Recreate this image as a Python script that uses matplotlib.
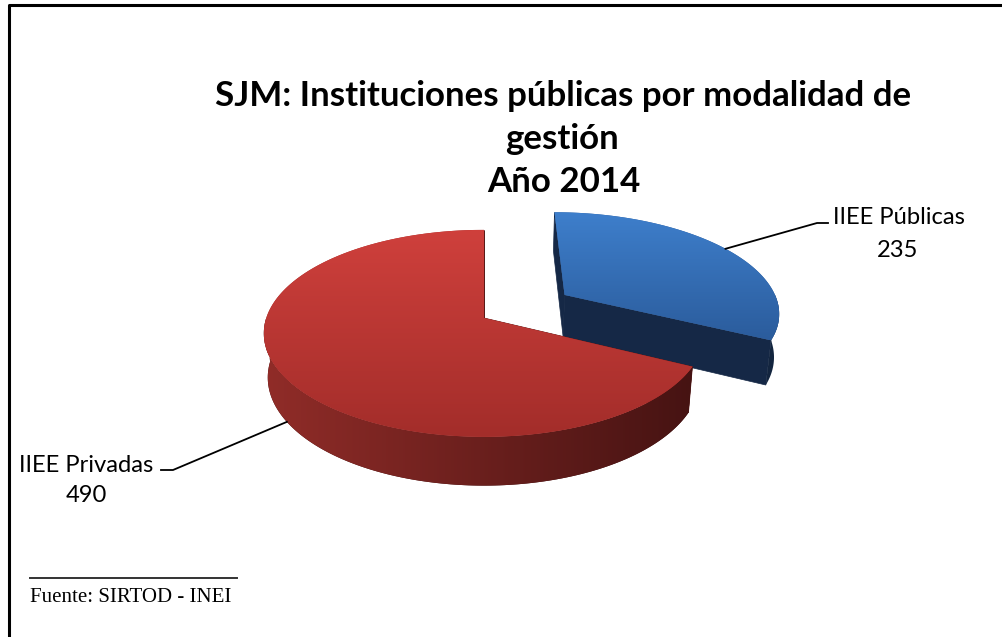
import numpy as np
import matplotlib
matplotlib.use('Agg')
import matplotlib.pyplot as plt
from matplotlib.patches import Polygon
from matplotlib.colors import to_rgb

# data
labels = ['IIEE Públicas', 'IIEE Privadas']
values = [235, 490]
explode = [0.45, 0.0]

title_lines = ['SJM: Instituciones públicas por modalidad de', 'gestión', 'Año 2014']
source_text = 'Fuente: SIRTOD - INEI'

# colours (top gradient, side gradient, cut wall)
top_cols = [('#3e7fcc', '#2b5c9c'), ('#cf403c', '#a32d2a')]
side_cols = [('#1c3355', '#13253f'), ('#902c28', '#3a0f0f')]
wall_cols = ['#152846', '#5a1a18']

W, H = 1002, 637
fig = plt.figure(figsize=(W / 100, H / 100), dpi=100)
ax = fig.add_axes([0, 0, 1, 1])

# simple perspective camera for the 3d pie
ELEV = np.radians(27.7)
DIST = 5.97
FOCAL = 1300
CX, CY = 484, 318
THICK = 0.231


def project(x, y, z):
    s, c = np.sin(ELEV), np.cos(ELEV)
    depth = DIST - (y * s + z * c)
    return CX + FOCAL * x / depth, CY - FOCAL * (y * c - z * s) / depth, depth


def lerp(c1, c2, k):
    a, b = np.array(to_rgb(c1)), np.array(to_rgb(c2))
    return tuple(a + (b - a) * k)


def grad_fill(poly, c1, c2, horizontal, x0=None, x1=None, z=1):
    xy = poly.get_xy()
    xs, ys = xy[:, 0], xy[:, 1]
    g = np.array([lerp(c1, c2, k) for k in np.linspace(0, 1, 256)])
    if horizontal:
        lo, hi = (xs.min() if x0 is None else x0), (xs.max() if x1 is None else x1)
        im = ax.imshow(g[None, :, :], extent=(lo, hi, ys.max(), ys.min()), origin='upper',
                       aspect='auto', zorder=z, interpolation='bilinear')
    else:
        im = ax.imshow(g[:, None, :], extent=(xs.min(), xs.max(), ys.max(), ys.min()), origin='upper',
                       aspect='auto', zorder=z, interpolation='bilinear')
    im.set_clip_path(poly)


total = float(sum(values))
slices = []
start = 90.0
for i, v in enumerate(values):
    span = v / total * 360
    t1, t0 = start, start - span
    mid = np.radians((t0 + t1) / 2)
    slices.append(dict(i=i, t0=t0, t1=t1, mid=mid,
                       ox=explode[i] * np.cos(mid), oz=-explode[i] * np.sin(mid)))
    start = t0

pie_left = project(-1, 0, 0)[0]
pie_right = project(1, 0, 0)[0]

zo = 1
# exploded (back) slice first, then the big one
for sl in sorted(slices, key=lambda d: -explode[d['i']]):
    i = sl['i']
    ox, oz = sl['ox'], sl['oz']

    def rim(t, y):
        return project(ox + np.cos(t), y, oz - np.sin(t))

    # cut walls
    walls = []
    for t in np.radians([sl['t0'], sl['t1']]):
        p = [project(ox, 0, oz), rim(t, 0), rim(t, -THICK), project(ox, -THICK, oz)]
        walls.append((np.mean([q[2] for q in p]), [q[:2] for q in p]))
    for d, pts in sorted(walls, key=lambda w: -w[0]):
        ax.add_patch(Polygon(pts, closed=True, facecolor=wall_cols[i], edgecolor=wall_cols[i],
                             lw=0.5, zorder=zo))
    zo += 1

    # front part of outer side
    a0, a1 = max(sl['t0'], -180), min(sl['t1'], 0)
    if a1 > a0:
        fs = np.radians(np.linspace(a0, a1, 150))
        pts = [rim(t, 0)[:2] for t in fs] + [rim(t, -THICK)[:2] for t in fs[::-1]]
        side = Polygon(pts, closed=True, facecolor=side_cols[i][1], edgecolor='none', zorder=zo)
        ax.add_patch(side)
        grad_fill(side, side_cols[i][0], side_cols[i][1], True, pie_left, pie_right + 60, zo + 0.5)
    zo += 1

    # top face with vertical gradient
    ts = np.radians(np.linspace(sl['t0'], sl['t1'], 200))
    c = project(ox, 0, oz)
    pts = [c[:2]] + [rim(t, 0)[:2] for t in ts]
    top = Polygon(pts, closed=True, facecolor=top_cols[i][1], edgecolor='none', zorder=zo)
    ax.add_patch(top)
    grad_fill(top, top_cols[i][0], top_cols[i][1], False, z=zo + 0.5)
    zo += 1

# leader lines: blue to the top rim, red to the bottom rim at the mid angle
blue = slices[0]
red = slices[1]
bx, by, _ = project(blue['ox'] + np.cos(blue['mid']), 0, blue['oz'] - np.sin(blue['mid']))
rx, ry, _ = project(red['ox'] + np.cos(red['mid']), -THICK, red['oz'] - np.sin(red['mid']))
ax.plot([bx, 817, 828], [by, 223, 223], color='black', lw=1.3, zorder=20)
ax.plot([rx, 173, 161], [ry, 470, 470], color='black', lw=1.3, zorder=20)


renderer = fig.canvas.get_renderer()


def fit(t, width):
    w = t.get_window_extent(renderer).width
    t.set_fontsize(t.get_fontsize() * width / w)


lab_font = 'Lato'
t = ax.text(898.5, 224, labels[0], ha='center', va='baseline', fontsize=18, family=lab_font)
fit(t, 132)
lab_size = t.get_fontsize()
ax.text(898, 257, str(values[0]), ha='center', va='baseline', fontsize=lab_size, family=lab_font)
ax.text(86, 472, labels[1], ha='center', va='baseline', fontsize=lab_size, family=lab_font)
ax.text(86, 502, str(values[1]), ha='center', va='baseline', fontsize=lab_size, family=lab_font)

# title
t = ax.text(563.5, 106, title_lines[0], ha='center', va='baseline', fontsize=24,
            fontweight='bold', family=lab_font)
fit(t, 697)
tsize = t.get_fontsize()
ax.text(562.5, 149, title_lines[1], ha='center', va='baseline', fontsize=tsize,
        fontweight='bold', family=lab_font)
ax.text(564, 192, title_lines[2], ha='center', va='baseline', fontsize=tsize,
        fontweight='bold', family=lab_font)

# source note
t = ax.text(30, 602, source_text, ha='left', va='baseline', fontsize=12, family='Liberation Serif')
fit(t, 200)
ax.plot([30, 237], [578, 578], color='#333333', lw=1.4)

# chart frame (only left and top visible)
ax.plot([9, 9, W + 5], [H + 5, 5, 5], color='black', lw=2.2, clip_on=False)

ax.set_xlim(0, W)
ax.set_ylim(H, 0)
ax.axis('off')
fig.savefig('out.png', dpi=100, facecolor='white')
